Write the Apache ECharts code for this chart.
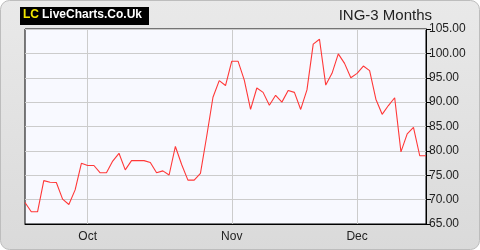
<!DOCTYPE html>
<html><head><meta charset="utf-8">
<script src="https://cdn.jsdelivr.net/npm/echarts@6/dist/echarts.min.js"></script>
<style>html,body{margin:0;padding:0;background:#fff}#c{width:480px;height:250px}</style>
</head><body><div id="c"></div>
<script>
// Trading-day categories (index positions); month labels at first trading day of month
const dayLabels = ['17 Sep','18 Sep','19 Sep','20 Sep','23 Sep','24 Sep','25 Sep','26 Sep','27 Sep','30 Sep',
 '1 Oct','2 Oct','3 Oct','4 Oct','7 Oct','8 Oct','9 Oct','10 Oct','11 Oct','14 Oct','15 Oct','16 Oct','17 Oct','18 Oct',
 '21 Oct','22 Oct','23 Oct','24 Oct','25 Oct','28 Oct','29 Oct','30 Oct','31 Oct',
 '1 Nov','4 Nov','5 Nov','6 Nov','7 Nov','8 Nov','11 Nov','12 Nov','13 Nov','14 Nov','15 Nov','18 Nov','19 Nov',
 '20 Nov','21 Nov','22 Nov','25 Nov','26 Nov','27 Nov','29 Nov',
 '2 Dec','3 Dec','4 Dec','5 Dec','6 Dec','9 Dec','10 Dec','11 Dec','12 Dec','13 Dec','16 Dec','17 Dec'];
const tickLabels = {'1 Oct':'Oct','1 Nov':'Nov','2 Dec':'Dec'};
const prices = [69.4,67.5,67.5,73.9,73.55,73.5,70.1,69.0,72.0,77.45,
 77.0,77.0,75.5,75.5,77.9,79.5,76.1,78.0,78.0,78.0,77.6,75.5,75.9,75.05,
 80.9,77.2,74.0,74.0,75.4,83.0,91.0,94.4,93.4,
 98.4,98.4,94.5,88.5,92.9,92.0,89.35,91.4,90.0,92.4,92.0,88.5,92.5,
 101.9,102.9,93.5,95.9,99.9,97.95,95.0,
 95.9,97.4,96.45,90.6,87.5,89.3,90.9,79.8,83.5,84.8,79.0,79.0];
const yTicks = {min:65, max:105, interval:5};
const title = 'ING-3 Months';

const chart = echarts.init(document.getElementById('c'), null, {renderer:'canvas'});
const isTick = (i) => tickLabels[dayLabels[i]] !== undefined;
chart.setOption({
  animation:false,
  backgroundColor:'#ffffff',
  graphic:[
    {type:'rect', z:-10, shape:{x:0.5,y:0.5,width:479,height:249,r:9},
     style:{fill:new echarts.graphic.LinearGradient(0,0,0,1,[{offset:0,color:'#e9e9e9'},{offset:1,color:'#dadada'}]),stroke:'#bdbdbd',lineWidth:1}},
    {type:'rect', z:5, shape:{x:20,y:7,width:129,height:18}, style:{fill:'#000'}},
    {type:'text', z:6, left:23, top:9, style:{text:'LC', fill:'#f2e600', font:'bold 12px "Liberation Sans", Arial'}},
    {type:'text', z:6, left:42, top:9, style:{text:'LiveCharts.Co.Uk', fill:'#ffffff', font:'bold 12px "Liberation Sans", Arial'}}
  ],
  title:{text:title, right:48, top:8, padding:0, textStyle:{fontSize:15, fontWeight:'normal', color:'#222', fontFamily:'"Liberation Sans", Arial'}},
  grid:{left:25, right:54, top:29, bottom:26, show:true, backgroundColor:'#f8f9ff', borderColor:'#000', borderWidth:1},
  xAxis:{type:'category', data:dayLabels, boundaryGap:false,
    axisLine:{lineStyle:{color:'#000'}}, axisTick:{show:false},
    axisLabel:{interval:(i)=>isTick(i), formatter:(v)=>tickLabels[v]||'', color:'#222', fontSize:12, fontFamily:'"Liberation Sans", Arial', margin:7},
    splitLine:{show:true, interval:(i)=>isTick(i), lineStyle:{color:'#cccccc'}}},
  yAxis:{type:'value', position:'right', min:yTicks.min, max:yTicks.max, interval:yTicks.interval,
    axisLine:{show:true, lineStyle:{color:'#000'}}, axisTick:{show:true, length:5, lineStyle:{color:'#000'}},
    axisLabel:{formatter:(v)=>v.toFixed(2), color:'#222', fontSize:12, fontFamily:'"Liberation Sans", Arial', margin:3},
    splitLine:{lineStyle:{color:'#cccccc'}}},
  series:[{type:'line', data:prices, symbol:'none', lineStyle:{color:'#ff3838', width:1.1}}]
});
</script></body></html>
